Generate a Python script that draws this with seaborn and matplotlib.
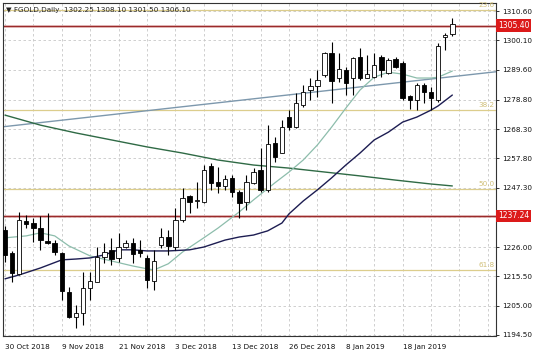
"""
FGOLD daily candles with moving averages, fib levels and S/R lines (MT4 style).
"""
import numpy as np
import pandas as pd
import matplotlib
matplotlib.use('Agg')
import matplotlib.pyplot as plt
import seaborn as sns

# ── candles (one per trading day) ─────────────────────────────────────────────
opens = [1232.1, 1223.9, 1216.4, 1235.3, 1234.6, 1232.8, 1228.2, 1227.5, 1223.9, 1209.9,
         1201.0, 1202.4, 1211.3, 1213.5, 1222.5, 1225.0, 1222.1, 1226.0, 1227.5, 1225.0,
         1222.1, 1213.9, 1226.8, 1229.6, 1226.0, 1235.7, 1244.3, 1242.5, 1242.2, 1255.1,
         1249.3, 1247.9, 1250.8, 1245.7, 1242.2, 1249.0, 1253.6, 1246.5, 1263.3, 1259.7,
         1272.6, 1269.0, 1276.9, 1282.3, 1283.7, 1287.7, 1295.5, 1286.6, 1289.5, 1286.6,
         1294.1, 1286.6, 1286.9, 1294.1, 1288.4, 1293.4, 1292.0, 1280.1, 1278.7, 1284.1,
         1281.6, 1278.7, 1301.3, 1302.25]
highs = [1233.6, 1224.6, 1238.6, 1237.5, 1236.4, 1237.1, 1238.2, 1228.5, 1224.2, 1211.7,
         1205.2, 1217.1, 1217.1, 1226.0, 1227.5, 1229.3, 1231.1, 1228.5, 1229.3, 1228.5,
         1223.2, 1225.0, 1232.8, 1232.1, 1240.0, 1247.2, 1244.7, 1249.3, 1255.4, 1256.1,
         1254.7, 1251.8, 1251.8, 1246.5, 1251.8, 1254.3, 1261.5, 1269.7, 1265.4, 1271.5,
         1275.1, 1281.2, 1284.1, 1286.6, 1289.5, 1295.9, 1299.5, 1295.5, 1290.5, 1294.1,
         1297.3, 1294.8, 1295.5, 1294.8, 1293.8, 1294.1, 1292.7, 1280.5, 1284.8, 1284.8,
         1283.4, 1299.1, 1302.7, 1308.10]
lows = [1220.7, 1213.5, 1216.0, 1232.8, 1227.8, 1225.0, 1227.1, 1223.2, 1207.0, 1200.6,
        1197.0, 1198.1, 1207.0, 1213.5, 1220.3, 1219.6, 1220.7, 1225.7, 1220.3, 1222.5,
        1211.3, 1210.6, 1225.7, 1223.2, 1225.0, 1235.0, 1238.2, 1240.0, 1241.8, 1246.5,
        1245.4, 1246.5, 1244.0, 1236.4, 1239.3, 1248.6, 1245.7, 1245.7, 1256.5, 1259.7,
        1268.0, 1268.7, 1276.2, 1278.7, 1279.8, 1286.9, 1277.6, 1285.2, 1280.5, 1280.5,
        1285.9, 1286.6, 1286.6, 1286.9, 1288.0, 1290.2, 1278.7, 1275.5, 1275.1, 1277.6,
        1275.1, 1278.0, 1296.6, 1301.50]
closes = [1223.2, 1216.7, 1235.7, 1234.3, 1232.8, 1228.5, 1227.5, 1224.2, 1210.3, 1201.0,
          1202.4, 1211.3, 1213.9, 1222.5, 1224.2, 1221.7, 1226.0, 1227.5, 1223.5, 1223.9,
          1214.2, 1221.0, 1229.6, 1226.4, 1235.7, 1243.6, 1242.2, 1242.9, 1253.6, 1249.0,
          1247.9, 1250.4, 1245.7, 1241.8, 1249.3, 1252.9, 1246.5, 1262.9, 1258.3, 1269.0,
          1269.0, 1277.6, 1281.6, 1283.7, 1285.9, 1295.5, 1285.5, 1289.8, 1284.8, 1293.8,
          1286.6, 1288.0, 1291.2, 1289.5, 1293.0, 1290.5, 1279.4, 1278.7, 1284.1, 1281.6,
          1279.4, 1298.1, 1302.0, 1306.10]

# ── axis labels ────────────────────────────────────────────────────────────────
date_bars = [0, 8, 16, 24, 32, 40, 48, 56]
date_labels = ['30 Oct 2018', '9 Nov 2018', '21 Nov 2018', '3 Dec 2018',
               '13 Dec 2018', '26 Dec 2018', '8 Jan 2019', '18 Jan 2019']
price_ticks = [1194.50, 1205.00, 1215.50, 1226.00, 1247.30, 1257.80,
               1268.30, 1278.80, 1289.60, 1300.10, 1310.60]
hidden_grid = [1236.80]

# ── indicators ────────────────────────────────────────────────────────────────
fast_bars = [0, 3, 5, 7, 9, 12, 15, 18, 20, 21, 23, 25, 28, 30, 33, 35, 38, 40,
             42, 44, 46, 48, 50, 52, 54, 56, 58, 60, 61, 63]
fast_ma = [1229.3, 1230.0, 1231.1, 1230.0, 1226.4, 1222.8, 1221.0, 1219.2, 1218.2,
           1217.8, 1220.0, 1224.2, 1229.3, 1232.8, 1238.6, 1242.9, 1249.0, 1252.9,
           1257.2, 1262.6, 1269.0, 1275.8, 1282.3, 1286.9, 1288.7, 1288.0, 1286.6,
           1286.6, 1286.9, 1289.1]
slow_bars = [0, 2, 5, 8, 10, 12, 14, 16, 18, 20, 23, 26, 28, 31, 33, 35, 37, 39,
             40, 42, 44, 46, 48, 50, 52, 54, 56, 58, 60, 61, 63]
slow_ma = [1214.6, 1216.0, 1218.5, 1221.4, 1221.7, 1222.1, 1223.2, 1225.0, 1225.0,
           1224.6, 1224.6, 1225.0, 1226.0, 1228.5, 1229.6, 1230.3, 1231.8, 1234.6,
           1237.9, 1242.5, 1246.5, 1250.8, 1255.4, 1259.7, 1264.4, 1267.2, 1270.8,
           1272.6, 1275.1, 1276.6, 1280.5]
long_bars = [0, 5, 10, 15, 20, 25, 30, 35, 40, 45, 50, 55, 60, 63]
long_ma = [1273.3, 1269.7, 1266.9, 1264.4, 1261.9, 1259.7, 1257.2, 1255.4, 1254.3,
           1252.9, 1251.5, 1250.0, 1248.6, 1247.9]
trend_bars = [0, 63]
trend_vals = [1269.2, 1287.1]

fib_names = ['23.6', '38.2', '50.0', '61.8']
fib_levels = [1311.0, 1275.1, 1246.8, 1217.8]
sr_levels = [1305.40, 1237.24]

header = '\u25bc FGOLD,Daily  1302.25 1308.10 1301.50 1306.10'

sns.set_style('white')
plt.rcParams['font.family'] = ['DejaVu Sans']
FS = 5.2

df = pd.DataFrame({'open': opens, 'high': highs, 'low': lows, 'close': closes})
df['bar'] = np.arange(len(df))
up = df['close'] >= df['open']
body_lo = df[['open', 'close']].min(axis=1)
body_h = (df['close'] - df['open']).abs().clip(lower=0.3)

fig = plt.figure(figsize=(5.36, 3.58), dpi=100)
ax = fig.add_axes([3 / 536, 1 - 336 / 358, 493 / 536, 333 / 358])
ax.set_facecolor('white')

# grid (MT4 style dashed)
for b in range(0, 72, 4):
    ax.axvline(b, color='#c8c8c8', lw=0.6, ls=(0, (3, 3)), zorder=0)
for p in price_ticks + hidden_grid:
    ax.axhline(p, color='#c8c8c8', lw=0.6, ls=(0, (3, 3)), zorder=0)

# fib levels
for name, lvl in zip(fib_names, fib_levels):
    ax.axhline(lvl, color='#dccd8c', lw=0.9, zorder=1)
    ax.text(0.997, lvl + 0.6, name, transform=ax.get_yaxis_transform(),
            ha='right', va='bottom', fontsize=FS, color='#d0bf78')

# support / resistance
for lvl in sr_levels:
    ax.axhline(lvl, color='#e2b4b4', lw=1.8, zorder=1)
    ax.axhline(lvl, color='#9a2a2a', lw=0.9, zorder=1)
    ax.text(1.004, lvl, f'{lvl:.2f}', transform=ax.get_yaxis_transform(),
            ha='left', va='center', fontsize=FS + 0.3, color='white', clip_on=False,
            bbox=dict(facecolor='#dc1a1a', edgecolor='none', pad=1.2))

# trend line + moving averages
ax.axline((trend_bars[0], trend_vals[0]), (trend_bars[1], trend_vals[1]),
          color='#7d98ad', lw=1.0, zorder=2)
sns.lineplot(x=long_bars, y=long_ma, ax=ax, color='#2f6a45', lw=1.0, zorder=2)
sns.lineplot(x=fast_bars, y=fast_ma, ax=ax, color='#8dbdac', lw=0.9, zorder=2)
sns.lineplot(x=slow_bars, y=slow_ma, ax=ax, color='#1d1d52', lw=1.0, zorder=2)

# candles
ax.vlines(df['bar'], df['low'], df['high'], color='black', lw=0.8, zorder=3)
ax.bar(df['bar'][up], body_h[up], bottom=body_lo[up], width=0.62,
       color='white', edgecolor='black', linewidth=0.6, zorder=4)
ax.bar(df['bar'][~up], body_h[~up], bottom=body_lo[~up], width=0.62,
       color='black', edgecolor='black', linewidth=0.6, zorder=4)

ax.set_xlim(-0.28, 69.15)
ax.set_ylim(1194.1, 1313.5)

ax.yaxis.tick_right()
ax.set_yticks(price_ticks)
ax.set_yticklabels([f'{p:.2f}' for p in price_ticks])
ax.set_xticks(date_bars)
ax.set_xticklabels(date_labels)
for lbl in ax.get_xticklabels():
    lbl.set_horizontalalignment('left')
ax.tick_params(axis='both', labelsize=FS, colors='#111', length=2.5, width=0.6,
               direction='out', pad=2)
ax.tick_params(axis='x', pad=3)
ax.set_xlabel('')
ax.set_ylabel('')
for s in ax.spines.values():
    s.set_color('#333')
    s.set_linewidth(0.8)
    s.set_visible(True)

ax.text(0.006, 0.978, header, transform=ax.transAxes, ha='left', va='center',
        fontsize=FS, color='#222')

fig.savefig('out.png', dpi=100, facecolor='white')
plt.close(fig)
